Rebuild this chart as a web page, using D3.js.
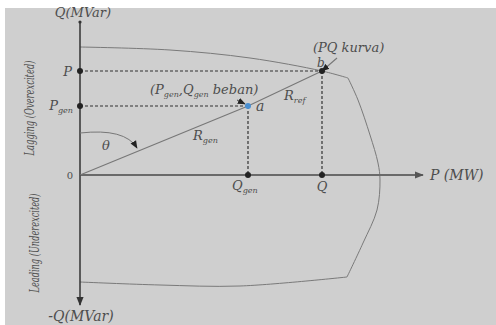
<!DOCTYPE html>
<html>
<head>
<meta charset="utf-8">
<script src="https://cdn.jsdelivr.net/npm/d3@7"></script>
<style>
  body { margin: 0; background: #fff; }
  svg { display: block; }
</style>
</head>
<body>
<div id="chart"></div>
<script>
// diagram values (chart units: P (MW) along x, Q (MVar) along y)
const valP = 104;
const valPgen = 69;
const valQgen = 168;
const valQ = 242;
const capTop = [[0, 128], [90, 125], [170, 117], [242, 104], [268, 97]];
const capRight = [[268, 97], [278, 75], [290, 40], [298, 12], [300, -5], [297, -35], [283, -68], [267, -102]];
const capBottom = [[267, -102], [160, -111], [80, -110], [0, -107]];
const loadLine = [[0, 0], [valQgen, valPgen], [valQ, valP]];
const kurvaPointer = [[257, 117], [valQ, valP]];
const bebanPointer = [[157, 75], [valQgen - 3, valPgen + 2]];
const thetaArc = [[0, 42], [45, 47], [57, 27]];
const xExtent = [0, 343];
const yExtent = [-130, 153];

const width = 496, height = 325;
const FONT = "'DejaVu Serif', serif";

const svg = d3.select("#chart")
    .append("svg")
    .attr("width", width)
    .attr("height", height);

// grey panel
svg.append("rect")
    .attr("x", 5).attr("y", 8)
    .attr("width", width - 5).attr("height", height - 8)
    .attr("fill", "#cfcfcf");

const x = d3.scaleLinear().domain(xExtent).range([80, 423]);
const y = d3.scaleLinear().domain(yExtent).range([305, 22]);

const defs = svg.append("defs");
function addArrow(id, color, size) {
    defs.append("marker")
        .attr("id", id)
        .attr("viewBox", "0 0 10 10")
        .attr("refX", 9).attr("refY", 5)
        .attr("markerWidth", size).attr("markerHeight", size)
        .attr("markerUnits", "userSpaceOnUse")
        .attr("orient", "auto")
        .append("path")
        .attr("d", "M0,1 L10,5 L0,9 Z")
        .attr("fill", color);
}
addArrow("arrAxis", "#333", 9);
addArrow("arrAxisH", "#555", 9);
addArrow("arrSmall", "#222", 8);

// capability curve
const smooth = d3.line().x(d => x(d[0])).y(d => y(d[1])).curve(d3.curveCatmullRom.alpha(0.5));
[capTop, capRight, capBottom].forEach(seg => {
    svg.append("path")
        .datum(seg)
        .attr("fill", "none")
        .attr("stroke", "#7a7a7a")
        .attr("stroke-width", 1)
        .attr("d", smooth);
});

// axes
svg.append("line")
    .attr("x1", x(0)).attr("y1", y(0))
    .attr("x2", x(xExtent[1])).attr("y2", y(0))
    .attr("stroke", "#6a6a6a").attr("stroke-width", 1.8)
    .attr("marker-end", "url(#arrAxisH)");

svg.append("line")
    .attr("x1", x(0)).attr("y1", y(yExtent[1]))
    .attr("x2", x(0)).attr("y2", y(yExtent[0]))
    .attr("stroke", "#333").attr("stroke-width", 1.5)
    .attr("marker-end", "url(#arrAxis)");

svg.append("circle")
    .attr("cx", x(0)).attr("cy", y(yExtent[1]))
    .attr("r", 1.6).attr("fill", "#333");

// dashed guides
const guides = [
    [[0, valP], [valQ, valP]],
    [[0, valPgen], [valQgen, valPgen]],
    [[valQgen, valPgen], [valQgen, 0]],
    [[valQ, valP], [valQ, 0]]
];
svg.selectAll(".guide")
    .data(guides)
    .enter()
    .append("line")
    .attr("class", "guide")
    .attr("x1", d => x(d[0][0])).attr("y1", d => y(d[0][1]))
    .attr("x2", d => x(d[1][0])).attr("y2", d => y(d[1][1]))
    .attr("stroke", "#333")
    .attr("stroke-width", 1.2)
    .attr("stroke-dasharray", "3,2");

// R_gen / R_ref line
const straight = d3.line().x(d => x(d[0])).y(d => y(d[1]));
svg.append("path")
    .datum(loadLine)
    .attr("fill", "none")
    .attr("stroke", "#777")
    .attr("stroke-width", 1.1)
    .attr("d", straight);

svg.append("path")
    .datum(kurvaPointer)
    .attr("fill", "none")
    .attr("stroke", "#777")
    .attr("stroke-width", 1.1)
    .attr("marker-end", "url(#arrSmall)")
    .attr("d", straight);

svg.append("path")
    .datum(bebanPointer)
    .attr("fill", "none")
    .attr("stroke", "#444")
    .attr("stroke-width", 1)
    .attr("marker-end", "url(#arrSmall)")
    .attr("d", straight);

// theta arc
const thetaPath = d3.path();
thetaPath.moveTo(x(thetaArc[0][0]), y(thetaArc[0][1]));
thetaPath.quadraticCurveTo(x(thetaArc[1][0]), y(thetaArc[1][1]), x(thetaArc[2][0]), y(thetaArc[2][1]));
svg.append("path")
    .attr("d", thetaPath.toString())
    .attr("fill", "none")
    .attr("stroke", "#777")
    .attr("stroke-width", 1)
    .attr("marker-end", "url(#arrSmall)");

// points
const dots = [[0, valP], [0, valPgen], [valQgen, 0], [valQ, 0], [valQ, valP]];
svg.selectAll(".dot")
    .data(dots)
    .enter()
    .append("circle")
    .attr("class", "dot")
    .attr("cx", d => x(d[0]))
    .attr("cy", d => y(d[1]))
    .attr("r", 3)
    .attr("fill", "#222");

svg.append("circle")
    .attr("cx", x(valQgen)).attr("cy", y(valPgen))
    .attr("r", 3).attr("fill", "#4a8fd0");

// labels
function newText(px, py, size, anchor) {
    return svg.append("text")
        .attr("x", px).attr("y", py)
        .attr("font-family", FONT)
        .attr("font-style", "italic")
        .attr("fill", "#4d4d4d")
        .attr("font-size", size)
        .attr("text-anchor", anchor || "start");
}
function label(txt, px, py, size, anchor) {
    return newText(px, py, size, anchor).text(txt);
}
function subLabel(main, sub, px, py, size, anchor) {
    const t = newText(px, py, size, anchor);
    t.append("tspan").text(main);
    t.append("tspan").attr("font-size", size * 0.62).attr("dy", 3).text(sub);
    return t;
}

label("Q(MVar)", x(0) + 3, y(yExtent[1]) - 5, 13, "middle");
label("-Q(MVar)", x(0) + 1, 321, 14, "middle");
label("P (MW)", x(xExtent[1]) + 7, y(0) + 5, 14, "start");
label("0", x(0) - 10, y(0) + 4, 10, "middle").attr("font-style", "normal");
label("P", x(0) - 8, y(valP) + 5, 13, "end");
subLabel("P", "gen", x(0) - 7, y(valPgen) + 4, 13, "end");
subLabel("Q", "gen", x(valQgen) - 16, y(0) + 15, 13, "start");
label("Q", x(valQ), y(0) + 16, 13, "middle");
label("θ", x(0) + 26, y(0) - 25, 13, "middle");
subLabel("R", "gen", x(valQgen) - 55, y(0) - 35, 13, "start");
subLabel("R", "ref", x(valQ) - 38, y(valP) + 29, 13, "start");
label("a", x(valQgen) + 8, y(valPgen) + 5, 14, "start");
label("b", x(valQ) - 5, y(valP) - 4, 12, "start");
label("(PQ kurva)", x(valQ) - 9, y(valP) - 19, 13, "start");

const beban = newText(x(valQgen) - 98, y(valPgen) - 12, 13, "start");
beban.append("tspan").text("(P");
beban.append("tspan").attr("font-size", 8).attr("dy", 3).text("gen");
beban.append("tspan").attr("dy", -3).text(",Q");
beban.append("tspan").attr("font-size", 8).attr("dy", 3).text("gen");
beban.append("tspan").attr("dy", -3).text(" beban)");

// side captions
label("Lagging (Overexcited)", 0, 0, 12, "middle")
    .attr("x", null).attr("y", null)
    .attr("transform", `translate(34,${y(valPgen) + 2}) rotate(-90)`)
    .attr("textLength", 95)
    .attr("lengthAdjust", "spacingAndGlyphs");

label("Leading (Underexcited)", 0, 0, 12, "middle")
    .attr("x", null).attr("y", null)
    .attr("transform", `translate(39,${y(-68)}) rotate(-90)`)
    .attr("textLength", 99)
    .attr("lengthAdjust", "spacingAndGlyphs");
</script>
</body>
</html>
